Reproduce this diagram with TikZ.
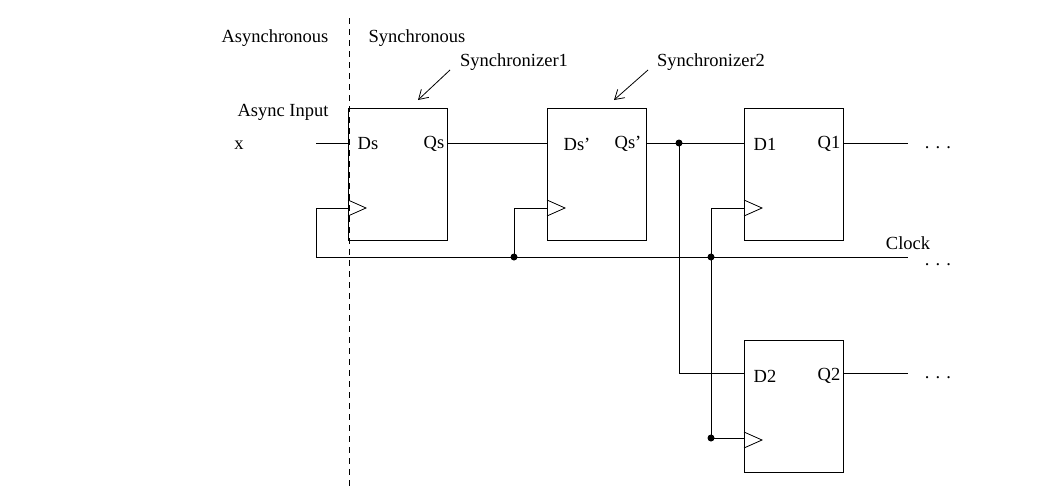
\documentclass[tikz,border=0pt]{standalone}
\usepackage{fontspec}
\setmainfont{Liberation Serif}
\usetikzlibrary{arrows.meta}
\begin{document}
\begin{tikzpicture}[x=1pt,y=-1pt,line width=0.8pt,
  lbl/.style={inner sep=0pt,font=\fontsize{18.5}{20}\selectfont},
  dot/.style={circle,fill,inner sep=0pt,minimum size=7pt},
  arr/.style={-{Straight Barb[length=9pt,width=11pt]}}]
\useasboundingbox (0,0) rectangle (1055,490);
\draw[dash pattern=on 6pt off 5pt] (349,18) -- (349,488);
\node[lbl] (as) at (275,38) {Asynchronous};
\node[lbl] (sy) at (417,38) {Synchronous};
% boxes
\foreach \n/\x/\y in {b1/348/108, b2/547/108, b3/744/108, b4/744/340}{
  \draw (\x,\y) rectangle ++(99,132);
  \draw (\x,\y+92) -- ++(18,8) -- ++(-18,8);
}
\node[lbl] (ds) at (368,144) {Ds};
\node[lbl] (qs) at (434,144) {Qs};
\node[lbl] (ds2) at (577,144) {Ds'};
\node[lbl] (qs2) at (628,144) {Qs'};
\node[lbl] (d1) at (765,144) {D1};
\node[lbl] (q1) at (829,144) {Q1};
\node[lbl] (d2) at (765,376) {D2};
\node[lbl] (q2) at (829,376) {Q2};
\node[lbl] (x) at (239,145) {x};
\node[lbl] (ai) at (283,112) {Async Input};
\node[lbl] (ck) at (908,243) {Clock};
\node[lbl] (e1) at (938,148) {. . .};
\node[lbl] (e2) at (938,265) {. . .};
\node[lbl] (e3) at (938,378) {. . .};
\node[lbl] (s1) at (514,62) {Synchronizer1};
\node[lbl] (s2) at (711,62) {Synchronizer2};
\coordinate (a1) at (450,70); \coordinate (a1e) at (418,100);
\coordinate (a2) at (648,70); \coordinate (a2e) at (614,100);
\draw[arr] (a1) -- (a1e);
\draw[arr] (a2) -- (a2e);
% signals
\draw (316,143) -- (348,143);
\draw (447,143) -- (547,143);
\draw (646,143) -- (744,143);
\draw (679,143) |- (744,373);
\node[dot] (j1) at (679,143) {};
\draw (843,143) -- (908,143);
\draw (843,373) -- (908,373);
\draw (348,208) -| (316,257) -- (908,257);
\draw (547,208) -| (514,257);
\node[dot] (j2) at (514,257) {};
\draw (744,208) -| (711,438) -- (744,438);
\node[dot] (j3) at (711,257) {};
\node[dot] (j4) at (711,438) {};
\end{tikzpicture}
\end{document}
